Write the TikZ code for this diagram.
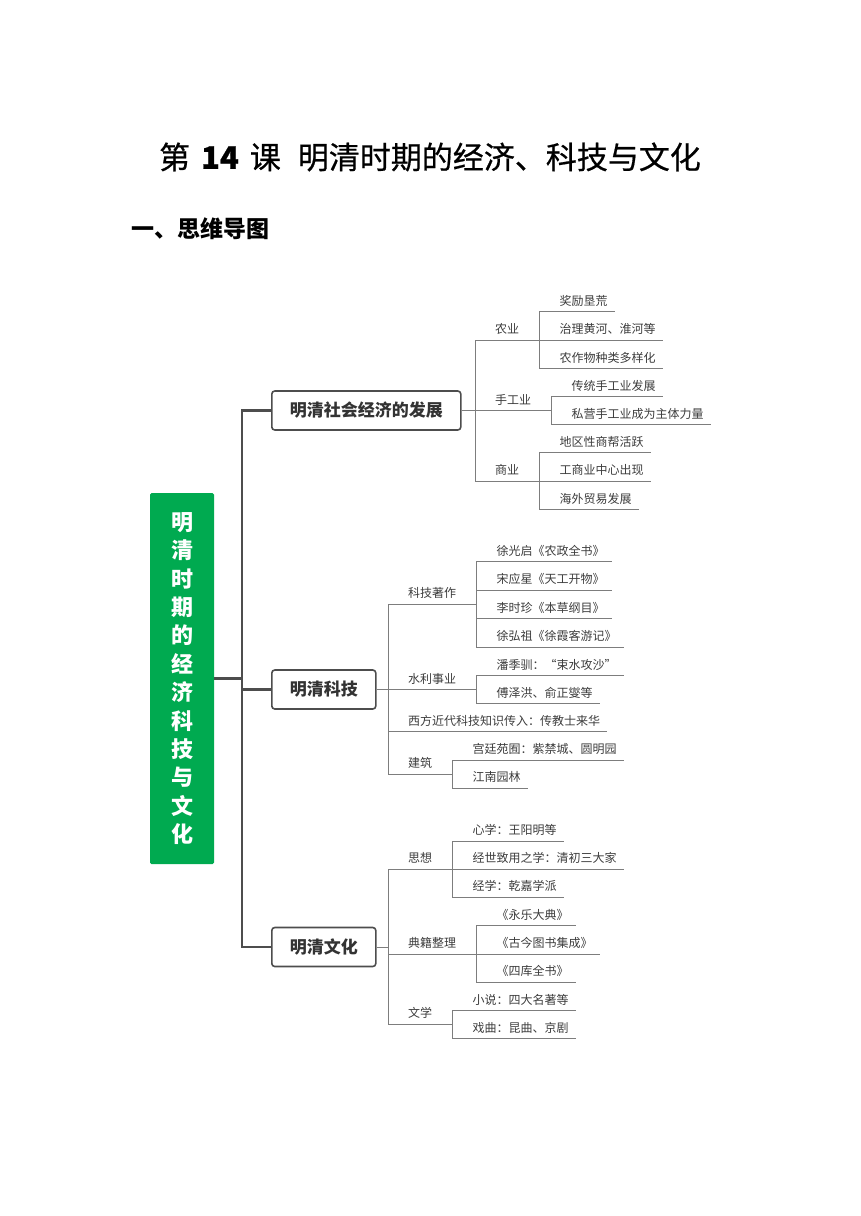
\documentclass[tikz,border=0pt]{standalone}
\usepackage{fontspec}
\setmainfont{Noto Sans CJK SC}
\newfontfamily\titlefont{Noto Sans CJK SC}[FakeBold=0.6]
\usepackage{xcolor}
\usepackage{tikz}
\usetikzlibrary{positioning}
\definecolor{rootgreen}{RGB}{0,170,80}
\definecolor{linedark}{RGB}{77,77,77}
\definecolor{linegray}{RGB}{125,125,125}
\definecolor{textgray}{RGB}{60,60,60}

\begin{document}
\begin{tikzpicture}[x=1pt,y=-1pt,
  root/.style={fill=rootgreen,text=white,rounded corners=1.5pt,minimum width=64pt,minimum height=371pt,align=center,inner sep=0pt,font=\fontsize{22}{28.4}\selectfont\bfseries},
  topic/.style={draw=linedark,line width=1.6pt,rounded corners=3pt,fill=white,anchor=west,minimum height=39pt,inner xsep=18pt,text=black!80,font=\fontsize{17}{20}\selectfont\bfseries},
  txt/.style={anchor=south west,inner ysep=4pt,text height=9pt,text depth=2pt,text=textgray,font=\fontsize{12}{14}\selectfont},
  stem/.style={txt,inner xsep=20pt},
  leaf/.style={txt,inner xsep=7pt},
  trunk/.style={draw=linedark,line width=2.6pt},
  twig/.style={draw=linegray,line width=0.9pt}]
\useasboundingbox (0,0) rectangle (860,1216);
% heading
\node[font=\titlefont\fontsize{31}{36}\selectfont] (title) at (430,157) {第\hspace{11pt}{\bfseries 14}\hspace{11pt}课\hspace{17pt}明清时期的经济、科技与文化};
\node[anchor=west,font=\fontsize{23}{28}\selectfont\bfseries] (head) at (128,229) {一、思维导图};
% root and main topics
\node[root] (root) at (182,678.5) {明\\清\\时\\期\\的\\经\\济\\科\\技\\与\\文\\化};
\node[topic] (econ) at (271,410.5) {明清社会经济的发展};
\node[topic] (tech) at (271,689.5) {明清科技};
\node[topic] (cult) at (271,947) {明清文化};
\coordinate (fork) at (242,678.5);
\draw[trunk] (root.east) -- (fork);
\draw[trunk] (econ.west) -| (fork) |- (cult.west);
\draw[trunk] (fork |- tech.west) -- (tech.west);

% economy
\coordinate (econ-f) at (475,410.5);
\draw[twig] (econ.east) -- (econ-f);
\node[stem] (agr) at (475,340) {农业};
\node[stem] (craft) at (475,410.5) {手工业};
\node[stem] (trade) at (475,481) {商业};
\node[leaf] (agr1) at ([xshift=13pt,yshift=28.2pt]agr.south east) {奖励垦荒};
\node[leaf] (agr2) at ([xshift=13pt]agr.south east) {治理黄河、淮河等};
\node[leaf] (agr3) at ([xshift=13pt,yshift=-28.2pt]agr.south east) {农作物种类多样化};
\node[leaf] (craft1) at ([xshift=13pt,yshift=14pt]craft.south east) {传统手工业发展};
\node[leaf] (craft2) at ([xshift=13pt,yshift=-14pt]craft.south east) {私营手工业成为主体力量};
\node[leaf] (trade1) at ([xshift=13pt,yshift=28.2pt]trade.south east) {地区性商帮活跃};
\node[leaf] (trade2) at ([xshift=13pt]trade.south east) {工商业中心出现};
\node[leaf] (trade3) at ([xshift=13pt,yshift=-28.2pt]trade.south east) {海外贸易发展};
\draw[twig] (econ-f) |- (agr.south east);
\draw[twig] (econ-f) |- (craft.south east);
\draw[twig] (econ-f) |- (trade.south east);
\draw[twig] (agr.south east) |- (agr1.south east);
\draw[twig] (agr.south east) |- (agr2.south east);
\draw[twig] (agr.south east) |- (agr3.south east);
\draw[twig] (craft.south east) |- (craft1.south east);
\draw[twig] (craft.south east) |- (craft2.south east);
\draw[twig] (trade.south east) |- (trade1.south east);
\draw[twig] (trade.south east) |- (trade2.south east);
\draw[twig] (trade.south east) |- (trade3.south east);

% science and technology
\coordinate (tech-f) at (388,689.5);
\draw[twig] (tech.east) -- (tech-f);
\node[stem] (book) at (388,604) {科技著作};
\node[stem] (water) at (388,689.5) {水利事业};
\node[leaf] (west) at (401,731.5) {西方近代科技知识传入：传教士来华};
\node[stem] (arch) at (388,774) {建筑};
\node[leaf] (book1) at ([xshift=13pt,yshift=42.3pt]book.south east) {徐光启《农政全书》};
\node[leaf] (book2) at ([xshift=13pt,yshift=14pt]book.south east) {宋应星《天工开物》};
\node[leaf] (book3) at ([xshift=13pt,yshift=-14.7pt]book.south east) {李时珍《本草纲目》};
\node[leaf] (book4) at ([xshift=13pt,yshift=-43pt]book.south east) {徐弘祖《徐霞客游记》};
\node[leaf] (water1) at ([xshift=13pt,yshift=14pt]water.south east) {潘季驯：“束水攻沙”};
\node[leaf] (water2) at ([xshift=13pt,yshift=-14pt]water.south east) {傅泽洪、俞正燮等};
\node[leaf] (arch1) at ([xshift=13pt,yshift=14pt]arch.south east) {宫廷苑囿：紫禁城、圆明园};
\node[leaf] (arch2) at ([xshift=13pt,yshift=-14pt]arch.south east) {江南园林};
\draw[twig] (tech-f) |- (book.south east);
\draw[twig] (tech-f) |- (water.south east);
\draw[twig] (tech-f) |- (west.south east);
\draw[twig] (tech-f) |- (arch.south east);
\draw[twig] (book.south east) |- (book1.south east);
\draw[twig] (book.south east) |- (book2.south east);
\draw[twig] (book.south east) |- (book3.south east);
\draw[twig] (book.south east) |- (book4.south east);
\draw[twig] (water.south east) |- (water1.south east);
\draw[twig] (water.south east) |- (water2.south east);
\draw[twig] (arch.south east) |- (arch1.south east);
\draw[twig] (arch.south east) |- (arch2.south east);

% culture
\coordinate (cult-f) at (388,947);
\draw[twig] (cult.east) -- (cult-f);
\node[stem] (idea) at (388,869) {思想};
\node[stem] (canon) at (388,954) {典籍整理};
\node[stem] (lit) at (388,1024) {文学};
\node[leaf] (idea1) at ([xshift=13pt,yshift=28pt]idea.south east) {心学：王阳明等};
\node[leaf] (idea2) at ([xshift=13pt]idea.south east) {经世致用之学：清初三大家};
\node[leaf] (idea3) at ([xshift=13pt,yshift=-28pt]idea.south east) {经学：乾嘉学派};
\node[leaf] (canon1) at ([xshift=13pt,yshift=28.5pt]canon.south east) {《永乐大典》};
\node[leaf] (canon2) at ([xshift=13pt]canon.south east) {《古今图书集成》};
\node[leaf] (canon3) at ([xshift=13pt,yshift=-28pt]canon.south east) {《四库全书》};
\node[leaf] (lit1) at ([xshift=13pt,yshift=13.5pt]lit.south east) {小说：四大名著等};
\node[leaf] (lit2) at ([xshift=13pt,yshift=-14.5pt]lit.south east) {戏曲：昆曲、京剧};
\draw[twig] (cult-f) |- (idea.south east);
\draw[twig] (cult-f) |- (canon.south east);
\draw[twig] (cult-f) |- (lit.south east);
\draw[twig] (idea.south east) |- (idea1.south east);
\draw[twig] (idea.south east) |- (idea2.south east);
\draw[twig] (idea.south east) |- (idea3.south east);
\draw[twig] (canon.south east) |- (canon1.south east);
\draw[twig] (canon.south east) |- (canon2.south east);
\draw[twig] (canon.south east) |- (canon3.south east);
\draw[twig] (lit.south east) |- (lit1.south east);
\draw[twig] (lit.south east) |- (lit2.south east);
\end{tikzpicture}
\end{document}
